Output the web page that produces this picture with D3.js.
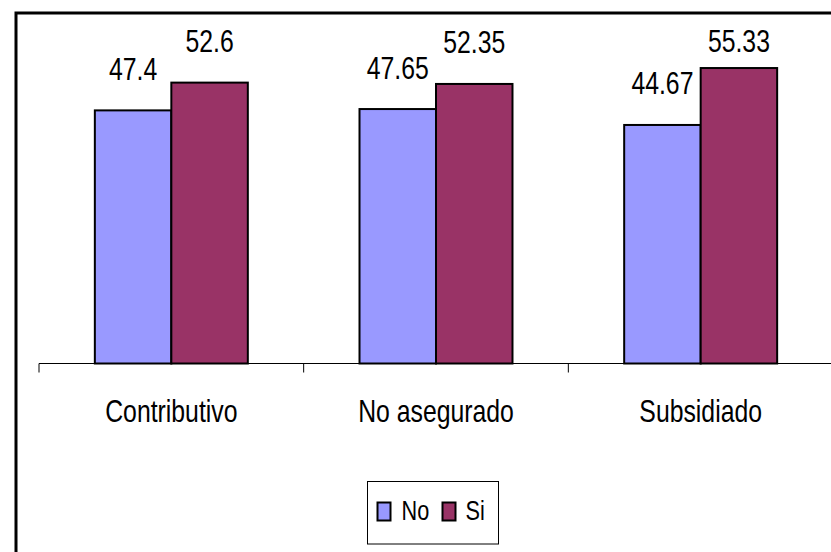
<!DOCTYPE html>
<html>
<head>
<meta charset="utf-8">
<script src="https://cdn.jsdelivr.net/npm/d3@7"></script>
<style>
  html, body { margin: 0; padding: 0; background: #fff; }
  svg { display: block; }
  text { font-family: "Liberation Sans Narrow", "Arial Narrow", "Liberation Sans", Arial, sans-serif; fill: #000; }
</style>
</head>
<body>
<svg id="chart" width="831" height="552"></svg>
<script>
// Categories and series
const categories = ["Contributivo", "No asegurado", "Subsidiado"];
const seriesNames = ["No", "Si"];
const seriesColors = ["#9999FF", "#993366"];
const valuesNo = [47.4, 47.65, 44.67];
const valuesSi = [52.6, 52.35, 55.33];
const yDomain = [0, 60];

const series = [valuesNo, valuesSi];

const svg = d3.select("#chart");
const W = 831, H = 552;
const NARROW = 0.775; // horizontal condensing of the text

// Places a condensed text label at (x, y)
function label(sel, x, y, size, anchor) {
  return sel.append("text")
    .attr("transform", `translate(${x},${y}) scale(${NARROW},1)`)
    .attr("text-anchor", anchor)
    .attr("font-size", size);
}

// Outer frame (only the top and left edges fall inside the window)
svg.append("rect")
  .attr("x", 16).attr("y", 13)
  .attr("width", W).attr("height", H)
  .attr("fill", "#fff")
  .attr("stroke", "#000")
  .attr("stroke-width", 3);

const plot = { left: 39, right: 833, top: 43.1, bottom: 363.5 };

const x = d3.scaleBand()
  .domain(categories)
  .range([plot.left, plot.right])
  .paddingInner(0).paddingOuter(0);

const y = d3.scaleLinear()
  .domain(yDomain)
  .range([plot.bottom, plot.top]);

const barW = x.bandwidth() * 0.289;

// Bars and value labels
categories.forEach((c, ci) => {
  const gx = x(c) + x.bandwidth() / 2 - barW;
  series.forEach((vals, si) => {
    const v = vals[ci];
    svg.append("rect")
      .attr("x", gx + si * barW)
      .attr("y", y(v))
      .attr("width", barW)
      .attr("height", y(0) - y(v))
      .attr("fill", seriesColors[si])
      .attr("stroke", "#000")
      .attr("stroke-width", 2);
    // labels sit above the bar but never above the chart's inner top
    const ly = Math.max(y(v) - 30.5, 51.7);
    label(svg, gx + si * barW + barW / 2, ly, 32, "middle").text(v);
  });
});

// Category axis with ticks between categories
const tickPos = categories.map(c => x(c)).concat([plot.right]);
const axisG = svg.append("g").attr("transform", `translate(0,${plot.bottom})`);
axisG.append("line")
  .attr("x1", plot.left).attr("x2", W)
  .attr("stroke", "#000").attr("stroke-width", 1);
axisG.selectAll("line.tick")
  .data(tickPos)
  .join("line")
  .attr("class", "tick")
  .attr("x1", d => d).attr("x2", d => d)
  .attr("y1", 0).attr("y2", 9)
  .attr("stroke", "#000").attr("stroke-width", 1);
categories.forEach(c => {
  label(axisG, x(c) + x.bandwidth() / 2, 58, 32, "middle").text(c);
});

// Legend
const legend = svg.append("g").attr("transform", "translate(367.5,481.5)");
legend.append("rect")
  .attr("width", 131).attr("height", 62.5)
  .attr("fill", "#fff").attr("stroke", "#000").attr("stroke-width", 1);
const legendItems = [
  { swatch: 10, text: 34 },
  { swatch: 75, text: 98 }
];
seriesNames.forEach((name, i) => {
  legend.append("rect")
    .attr("x", legendItems[i].swatch).attr("y", 21)
    .attr("width", 13).attr("height", 18)
    .attr("fill", seriesColors[i])
    .attr("stroke", "#000").attr("stroke-width", 2);
  label(legend, legendItems[i].text, 38.5, 28, "start").text(name);
});
</script>
</body>
</html>
